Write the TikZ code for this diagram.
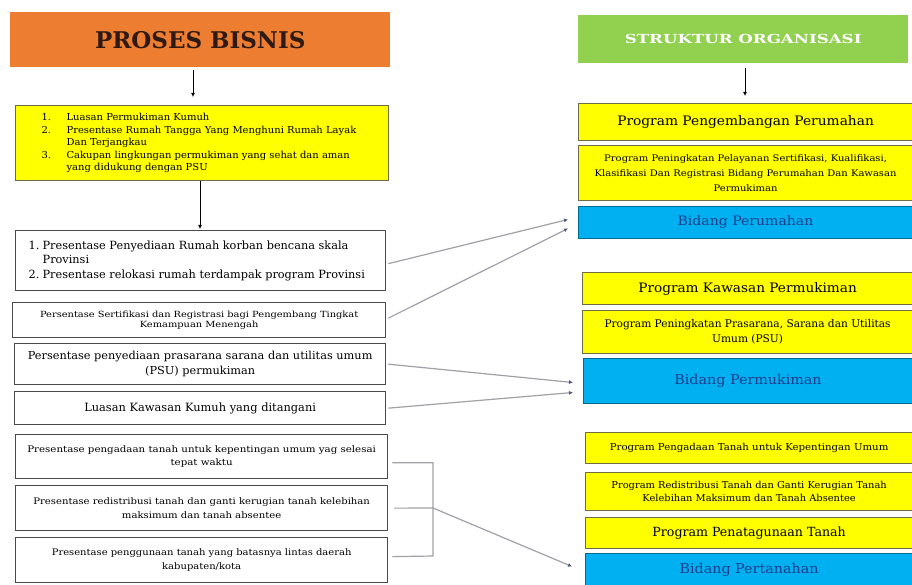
\documentclass[tikz,border=0pt]{standalone}
\usepackage{fontspec}
\usepackage{array}
\setmainfont{DejaVu Serif}
\usetikzlibrary{arrows.meta}
\hyphenpenalty=10000
\exhyphenpenalty=10000
\newcommand\fw[3]{\fontsize{#1}{#2}\selectfont\addfontfeature{FakeStretch=#3}}
\definecolor{orng}{HTML}{ED7D31}
\definecolor{grn}{HTML}{92D050}
\definecolor{yel}{HTML}{FFFF00}
\definecolor{blu}{HTML}{00B0F0}
\definecolor{ybord}{HTML}{6E6E46}
\definecolor{wbord}{HTML}{4A4A4A}
\definecolor{conn}{HTML}{A0A0A8}
\definecolor{tipc}{HTML}{4A5A80}
\definecolor{navy}{HTML}{1F3C8C}
\definecolor{hdtext}{HTML}{2E1A12}
\tikzset{
  base/.style={anchor=north west, inner sep=0pt, align=flush center},
  hdrbox/.style={base, draw=none},
  ybox/.style={base, fill=yel, draw=ybord, line width=1.2pt},
  wbox/.style={base, fill=white, draw=wbord, line width=1.3pt},
  bbox/.style={base, fill=blu, draw=blu!60!black, line width=1pt, text=navy},
  cline/.style={draw=conn, line width=1.2pt},
  ctip/.style={cline, -{Latex[length=4pt,width=4pt,color=tipc,fill=tipc]}},
  darr/.style={draw=black, line width=0.8pt, -{Latex[length=4pt,width=4pt]}}
}
\begin{document}
\begin{tikzpicture}[x=1pt,y=-1pt]
\useasboundingbox[fill=white] (0,0) rectangle (912,585);

% ---------- LEFT COLUMN ----------
\node[hdrbox, fill=orng, minimum width=380pt, minimum height=55pt, text=hdtext,
  font=\fontsize{23}{26}\selectfont\bfseries] (pbh) at (10,12) {PROSES BISNIS};

\node[ybox, minimum width=373pt, minimum height=75pt, align=left,
  font=\fw{9.6}{12.5}{1.04}] (pb1) at (15,105)
  {\begin{tabular}{@{}p{25pt}@{}>{\raggedright\arraybackslash}p{296pt}@{}}
   1. & Luasan Permukiman Kumuh\\
   2. & Presentase Rumah Tangga Yang Menghuni Rumah Layak Dan Terjangkau\\
   3. & Cakupan lingkungan permukiman yang sehat dan aman yang didukung dengan PSU
   \end{tabular}};

\node[wbox, minimum width=370pt, minimum height=60pt, align=left,
  font=\fw{11.3}{14.5}{1.0}] (pb2) at (15,230)
  {\begin{tabular}{@{}p{14pt}@{}>{\raggedright\arraybackslash}p{330pt}@{}}
   1. & Presentase Penyediaan Rumah korban bencana skala Provinsi\\
   2. & Presentase relokasi rumah terdampak program Provinsi
   \end{tabular}};

\node[wbox, minimum width=373pt, minimum height=35pt, text width=345pt,
  font=\fw{8.5}{10.5}{1.16}] (pb3) at (12,302)
  {Persentase Sertifikasi dan Registrasi bagi Pengembang Tingkat Kemampuan Menengah};

\node[wbox, minimum width=371pt, minimum height=41pt, text width=362pt,
  font=\fw{11}{15.5}{1.03}] (pb4) at (14,343)
  {Persentase penyediaan prasarana sarana dan utilitas umum (PSU) permukiman};

\node[wbox, minimum width=371pt, minimum height=33pt, text width=355pt,
  font=\fw{11.4}{14}{1.0}] (pb5) at (14,391)
  {Luasan Kawasan Kumuh yang ditangani};

\node[wbox, minimum width=372pt, minimum height=44pt, text width=352pt,
  font=\fw{9}{13.3}{1.14}] (pb6) at (15,434)
  {Presentase pengadaan tanah untuk kepentingan umum yag selesai tepat waktu};

\node[wbox, minimum width=372pt, minimum height=45pt, text width=345pt,
  font=\fw{9}{13.3}{1.12}] (pb7) at (15,485)
  {Presentase redistribusi tanah dan ganti kerugian tanah kelebihan maksimum dan tanah absentee};

\node[wbox, minimum width=372pt, minimum height=45pt, text width=330pt,
  font=\fw{9}{13.3}{1.11}] (pb8) at (15,537)
  {Presentase penggunaan tanah yang batasnya lintas daerah kabupaten/kota};

% ---------- RIGHT COLUMN ----------
\node[hdrbox, fill=grn, minimum width=330pt, minimum height=48pt, text=white,
  font=\fontsize{12.5}{15}\selectfont\bfseries\addfontfeature{FakeStretch=1.33}] (soh) at (578,15) {STRUKTUR ORGANISASI};

\node[ybox, minimum width=334pt, minimum height=37pt,
  font=\fw{13}{15}{1.06}] (r1) at (578,103) {Program Pengembangan Perumahan};

\node[ybox, minimum width=334pt, minimum height=55pt, text width=326pt,
  font=\fw{9}{15}{1.11}] (r2) at (578,145)
  {Program Peningkatan Pelayanan Sertifikasi, Kualifikasi, Klasifikasi Dan Registrasi Bidang Perumahan Dan Kawasan Permukiman};

\node[bbox, minimum width=334pt, minimum height=32pt,
  font=\fw{13}{15}{1.08}] (bper) at (578,206) {Bidang Perumahan};

\node[ybox, minimum width=330pt, minimum height=32pt,
  font=\fw{13}{15}{1.05}] (r4) at (582,272) {Program Kawasan Permukiman};

\node[ybox, minimum width=330pt, minimum height=43pt, text width=315pt,
  font=\fw{10.6}{15}{1.0}] (r5) at (582,310)
  {Program Peningkatan Prasarana, Sarana dan Utilitas Umum (PSU)};

\node[bbox, minimum width=329pt, minimum height=45pt,
  font=\fw{13.5}{15}{1.06}] (bpm) at (583,358) {Bidang Permukiman};

\node[ybox, minimum width=327pt, minimum height=31pt,
  font=\fw{9.5}{12}{1.07}] (r7) at (585,432) {Program Pengadaan Tanah untuk Kepentingan Umum};

\node[ybox, minimum width=327pt, minimum height=38pt, text width=321pt,
  font=\fw{9.5}{13}{1.04}] (r8) at (585,472)
  {Program Redistribusi Tanah dan Ganti Kerugian Tanah Kelebihan Maksimum dan Tanah Absentee};

\node[ybox, minimum width=327pt, minimum height=31pt,
  font=\fw{12.6}{14}{1.0}] (r9) at (585,517) {Program Penatagunaan Tanah};

\node[bbox, minimum width=327pt, minimum height=32pt,
  font=\fw{13.5}{15}{1.06}] (bpt) at (585,553) {Bidang Pertanahan};

% ---------- vertical arrows ----------
\draw[darr] ([yshift=-3pt]pbh.south -| 193,0) -- ([yshift=8pt]pb1.north -| 193,0);
\draw[darr] (pb1.south -| 200,0) -- ([yshift=1pt]pb2.north -| 200,0);
\draw[darr] ([yshift=-5pt]soh.south -| 745,0) -- ([yshift=7pt]r1.north -| 745,0);

% ---------- connectors ----------
\draw[ctip] ([xshift=2pt,yshift=-3pt]pb2.east) -- ([xshift=-10pt,yshift=3pt]bper.west);
\draw[ctip] ([xshift=2pt,yshift=2pt]pb3.east) -- ([xshift=-10pt,yshift=-6pt]bper.west);
\draw[ctip] ([xshift=2pt]pb4.east) -- ([xshift=-10pt,yshift=-1.5pt]bpm.west);
\draw[ctip] ([xshift=2pt]pb5.east) -- ([xshift=-10pt,yshift=-11.5pt]bpm.west);

\coordinate (brk) at (433,508);
\draw[cline] ([xshift=4pt,yshift=-6pt]pb6.east) -| (brk |- 0,462) -- (brk |- 0,556) -- ([xshift=4pt,yshift=3.5pt]pb8.east);
\draw[cline] ([xshift=6pt]pb7.east) -- (brk);
\draw[ctip] (brk) -- ([xshift=-13pt,yshift=3pt]bpt.west);
\end{tikzpicture}
\end{document}
